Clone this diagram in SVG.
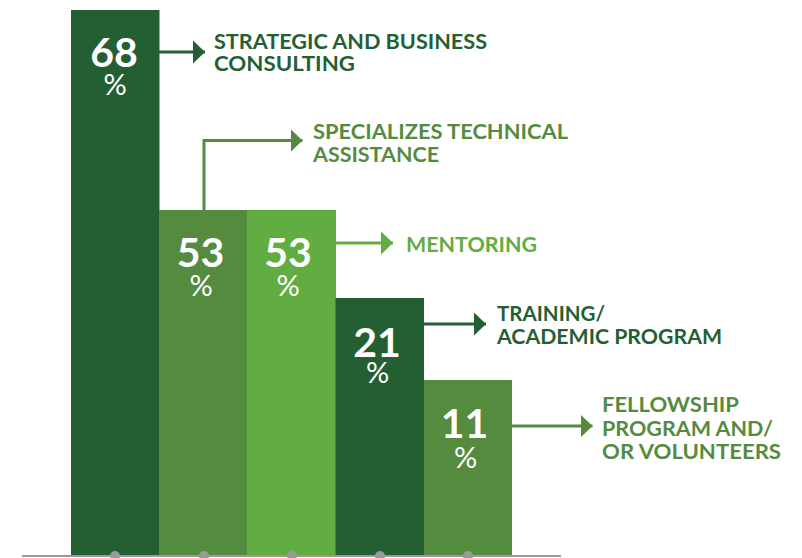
<svg xmlns="http://www.w3.org/2000/svg" width="802" height="558" viewBox="0 0 802 558">
<style>
.dk{fill:#245F33}.md{fill:#548B3E}.lt{fill:#62AD41}
.val{font-family:Lato,"Open Sans",sans-serif;fill:#fff;text-anchor:middle}
.num{font-weight:700;font-size:41px}
.pct{font-weight:400;font-size:29px}
.lbl{font-family:Lato,"Open Sans",sans-serif;font-weight:700;font-size:20.5px}
.ln{fill:none;stroke-width:3}
</style>
<defs>
<marker id="ahd" markerUnits="userSpaceOnUse" markerWidth="13" markerHeight="23" refX="12" refY="11.5" orient="auto"><path d="M0,0L12,11.5L0,23Z" fill="#245F33"/></marker>
<marker id="ahm" markerUnits="userSpaceOnUse" markerWidth="13" markerHeight="23" refX="12" refY="11.5" orient="auto"><path d="M0,0L12,11.5L0,23Z" fill="#548B3E"/></marker>
<marker id="ahl" markerUnits="userSpaceOnUse" markerWidth="13" markerHeight="23" refX="12" refY="11.5" orient="auto"><path d="M0,0L12,11.5L0,23Z" fill="#62AD41"/></marker>
</defs>
<g id="bar-68">
<rect class="dk" x="71" y="10" width="88.5" height="546"/>
<text class="val"><tspan class="num" x="114" y="67">68</tspan><tspan class="pct" x="115" y="95">%</tspan></text>
</g>
<g id="bar-53a">
<rect class="md" x="159" y="210" width="88.5" height="346"/>
<text class="val"><tspan class="num" x="200.5" y="267">53</tspan><tspan class="pct" x="201" y="296">%</tspan></text>
</g>
<g id="bar-53b">
<rect class="lt" x="247" y="210" width="89" height="346"/>
<text class="val"><tspan class="num" x="288" y="267">53</tspan><tspan class="pct" x="288" y="296">%</tspan></text>
</g>
<g id="bar-21">
<rect class="dk" x="335.5" y="298" width="88.5" height="258"/>
<text class="val"><tspan class="num" x="377" y="357">21</tspan><tspan class="pct" x="377.5" y="383">%</tspan></text>
</g>
<g id="bar-11">
<rect class="md" x="424" y="380" width="88" height="176"/>
<text class="val"><tspan class="num" x="464.5" y="438">11</tspan><tspan class="pct" x="465.5" y="468">%</tspan></text>
</g>
<g id="axis">
<line x1="22" y1="556" x2="561" y2="556" stroke="#9A9A9A" stroke-width="2"/>
<g fill="#9A9A9A">
<circle cx="115" cy="556" r="5"/><circle cx="204" cy="556" r="5"/><circle cx="292" cy="556" r="5"/><circle cx="380" cy="556" r="5"/><circle cx="468" cy="556" r="5"/>
</g>
</g>
<g id="connectors">
<path class="ln" stroke="#245F33" d="M159,52H205" marker-end="url(#ahd)"/>
<path class="ln" stroke="#548B3E" d="M204,210V140.5H302.5" marker-end="url(#ahm)"/>
<path class="ln" stroke="#62AD41" d="M336,243H393" marker-end="url(#ahl)"/>
<path class="ln" stroke="#245F33" d="M424,324H486" marker-end="url(#ahd)"/>
<path class="ln" stroke="#548B3E" d="M512,426H592.5" marker-end="url(#ahm)"/>
</g>
<g id="label-strategic" class="lbl" fill="#245F33">
<text x="214" y="48.5" textLength="273" lengthAdjust="spacingAndGlyphs">STRATEGIC AND BUSINESS</text>
<text x="214" y="70.5" textLength="141" lengthAdjust="spacingAndGlyphs">CONSULTING</text>
</g>
<g id="label-specialized" class="lbl" fill="#548B3E">
<text x="313" y="138.5" textLength="255" lengthAdjust="spacingAndGlyphs">SPECIALIZES TECHNICAL</text>
<text x="313" y="161.5" textLength="126" lengthAdjust="spacingAndGlyphs">ASSISTANCE</text>
</g>
<g id="label-mentoring" class="lbl" fill="#62AD41">
<text x="406" y="251.5" textLength="131" lengthAdjust="spacingAndGlyphs">MENTORING</text>
</g>
<g id="label-training" class="lbl" fill="#245F33">
<text x="497" y="320.5" textLength="108" lengthAdjust="spacingAndGlyphs">TRAINING/</text>
<text x="497" y="344" textLength="225" lengthAdjust="spacingAndGlyphs">ACADEMIC PROGRAM</text>
</g>
<g id="label-fellowship" class="lbl" fill="#548B3E">
<text x="602" y="411.5" textLength="137" lengthAdjust="spacingAndGlyphs">FELLOWSHIP</text>
<text x="602" y="435.5" textLength="171" lengthAdjust="spacingAndGlyphs">PROGRAM AND/</text>
<text x="602" y="458.5" textLength="179" lengthAdjust="spacingAndGlyphs">OR VOLUNTEERS</text>
</g>
</svg>
